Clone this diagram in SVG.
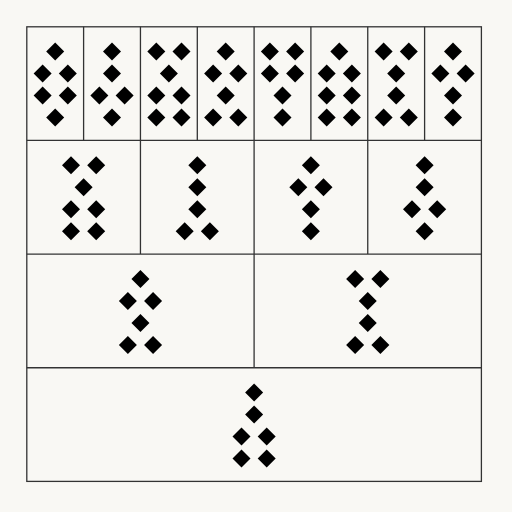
<svg xmlns="http://www.w3.org/2000/svg" xmlns:xlink="http://www.w3.org/1999/xlink" width="512" height="512" viewBox="0 0 512 512">
<defs>
<style>
.ln{fill:none;stroke:#333;stroke-width:1.3}
.dot{fill:#000}
</style>
<path id="d" class="dot" d="M0,-9 L9,0 L0,9 L-9,0Z"/>
<g id="s1"><use xlink:href="#d"/></g>
<g id="s2"><use xlink:href="#d" x="-12.6"/><use xlink:href="#d" x="12.6"/></g>
</defs>
<rect width="512" height="512" fill="#f9f8f4"/>
<g id="grid" class="ln">
<rect x="26.8" y="26.8" width="454.6" height="454.6"/>
<path d="M26.8,140.45H481.4M26.8,254.1H481.4M26.8,367.75H481.4"/>
<path d="M83.6,26.8V140.45M140.45,26.8V254.1M197.3,26.8V140.45M254.1,26.8V367.75M310.9,26.8V140.45M367.75,26.8V254.1M424.6,26.8V140.45"/>
</g>
<g id="fig1" transform="translate(55.2,83.6)"><use xlink:href="#s1" y="-32"/><use xlink:href="#s2" y="-10"/><use xlink:href="#s2" y="12"/><use xlink:href="#s1" y="34"/></g>
<g id="fig2" transform="translate(112,83.6)"><use xlink:href="#s1" y="-32"/><use xlink:href="#s1" y="-10"/><use xlink:href="#s2" y="12"/><use xlink:href="#s1" y="34"/></g>
<g id="fig3" transform="translate(168.9,83.6)"><use xlink:href="#s2" y="-32"/><use xlink:href="#s1" y="-10"/><use xlink:href="#s2" y="12"/><use xlink:href="#s2" y="34"/></g>
<g id="fig4" transform="translate(225.7,83.6)"><use xlink:href="#s1" y="-32"/><use xlink:href="#s2" y="-10"/><use xlink:href="#s1" y="12"/><use xlink:href="#s2" y="34"/></g>
<g id="fig5" transform="translate(282.5,83.6)"><use xlink:href="#s2" y="-32"/><use xlink:href="#s2" y="-10"/><use xlink:href="#s1" y="12"/><use xlink:href="#s1" y="34"/></g>
<g id="fig6" transform="translate(339.3,83.6)"><use xlink:href="#s1" y="-32"/><use xlink:href="#s2" y="-10"/><use xlink:href="#s2" y="12"/><use xlink:href="#s2" y="34"/></g>
<g id="fig7" transform="translate(396.2,83.6)"><use xlink:href="#s2" y="-32"/><use xlink:href="#s1" y="-10"/><use xlink:href="#s1" y="12"/><use xlink:href="#s2" y="34"/></g>
<g id="fig8" transform="translate(453,83.6)"><use xlink:href="#s1" y="-32"/><use xlink:href="#s2" y="-10"/><use xlink:href="#s1" y="12"/><use xlink:href="#s1" y="34"/></g>
<g id="fig9" transform="translate(83.6,197.3)"><use xlink:href="#s2" y="-32"/><use xlink:href="#s1" y="-10"/><use xlink:href="#s2" y="12"/><use xlink:href="#s2" y="34"/></g>
<g id="fig10" transform="translate(197.3,197.3)"><use xlink:href="#s1" y="-32"/><use xlink:href="#s1" y="-10"/><use xlink:href="#s1" y="12"/><use xlink:href="#s2" y="34"/></g>
<g id="fig11" transform="translate(310.9,197.3)"><use xlink:href="#s1" y="-32"/><use xlink:href="#s2" y="-10"/><use xlink:href="#s1" y="12"/><use xlink:href="#s1" y="34"/></g>
<g id="fig12" transform="translate(424.6,197.3)"><use xlink:href="#s1" y="-32"/><use xlink:href="#s1" y="-10"/><use xlink:href="#s2" y="12"/><use xlink:href="#s1" y="34"/></g>
<g id="fig13" transform="translate(140.45,310.9)"><use xlink:href="#s1" y="-32"/><use xlink:href="#s2" y="-10"/><use xlink:href="#s1" y="12"/><use xlink:href="#s2" y="34"/></g>
<g id="fig14" transform="translate(367.75,310.9)"><use xlink:href="#s2" y="-32"/><use xlink:href="#s1" y="-10"/><use xlink:href="#s1" y="12"/><use xlink:href="#s2" y="34"/></g>
<g id="fig15" transform="translate(254.1,424.6)"><use xlink:href="#s1" y="-32"/><use xlink:href="#s1" y="-10"/><use xlink:href="#s2" y="12"/><use xlink:href="#s2" y="34"/></g>
</svg>
